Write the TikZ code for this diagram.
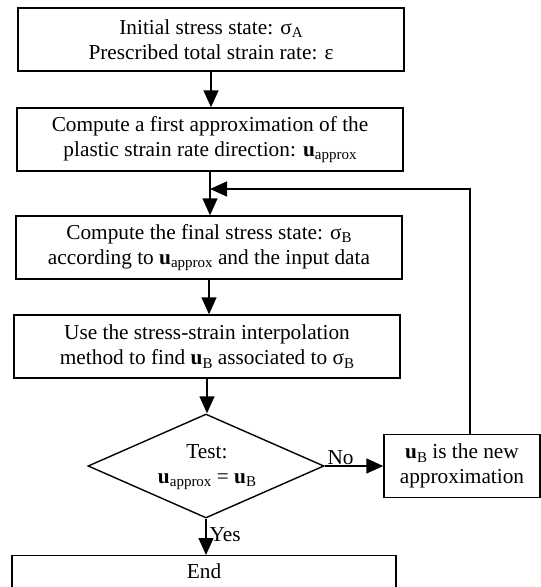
\documentclass[tikz,border=0pt]{standalone}
\usepackage{fontspec}
\setmainfont{Liberation Serif}
\usetikzlibrary{arrows.meta,shapes.geometric}
% lowered, smaller index (upright subscript)
\newcommand{\lo}[1]{\raisebox{-0.35ex}{\fontsize{15}{15}\selectfont #1}}
\newcommand{\bu}{\textbf{u}}
\begin{document}
\begin{tikzpicture}[x=1pt,y=-1pt,
  txt/.style={font=\fontsize{21.3}{25}\selectfont},
  box/.style={draw, line width=1.4pt, minimum width=386pt, minimum height=63pt,
              align=center, inner sep=0pt, txt},
  flow/.style={line width=1.4pt, -{Triangle[length=17pt,width=15pt]}},
  lbl/.style={txt, inner sep=1pt}]
\useasboundingbox (0,0) rectangle (541,587);

\node[box] (b1) at (211,39.5) {Initial stress state: σ\lo{A}\\Prescribed total strain rate: ε};
\node[box] (b2) at (210,139.5) {Compute a first approximation of the\\plastic strain rate direction: \bu\lo{approx}};
\node[box] (b3) at (209,247.5) {Compute the final stress state: σ\lo{B}\\according to \bu\lo{approx} and the input data};
\node[box] (b4) at (207,346.5) {Use the stress-strain interpolation\\method to find \bu\lo{B} associated to σ\lo{B}};

\node[diamond, draw, line width=1.4pt, minimum width=236pt, minimum height=104pt,
      inner sep=0pt, aspect=2.27] (test) at (206,466) {};
\node[txt, align=center, inner sep=0pt] (testtxt) at (207,467) {Test:\\\bu\lo{approx} = \bu\lo{B}};

\node[box, minimum width=156pt] (b5) at (462,466) {\bu\lo{B} is the new\\approximation};

\node[box, minimum width=384pt, minimum height=70pt, anchor=north,
      label={[lbl, anchor=north, yshift=-8pt]north:End}] (endbox) at (204,555) {};

\coordinate (j) at (210,189);

% main downward flow, kept vertical
\draw[flow] (b1.south) -- (b1.south |- b2.north);
\draw[flow] (b2.south) -- (b2.south |- b3.north);
\draw[flow] (b3.south) -- (b3.south |- b4.north);
\draw[flow] (b4.south) -- (b4.south |- test.north);
\draw[flow] (test.east) -- node[lbl, above, pos=0.27] {No} (b5.west);
\draw[flow] (test.south) -- node[lbl, right, pos=0.45, xshift=2pt] {Yes} (test.south |- endbox.north);
% loop back with the new approximation
\draw[flow] ([xshift=8pt]b5.north) |- (j);
\end{tikzpicture}
\end{document}
